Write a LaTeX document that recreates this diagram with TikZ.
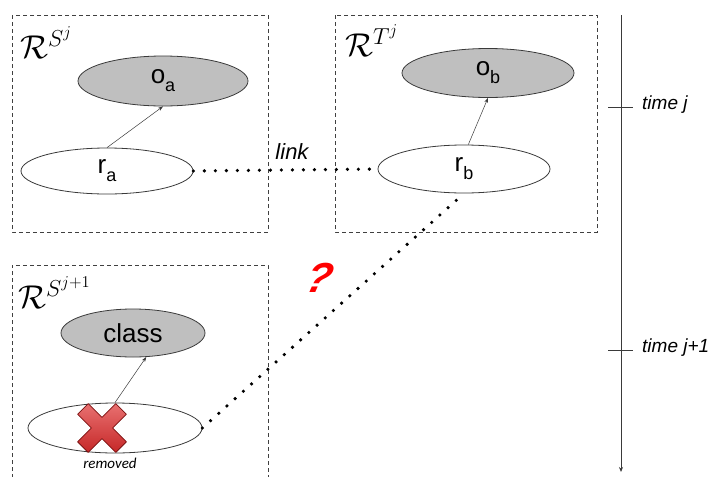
\documentclass[tikz,border=0pt]{standalone}
\usepackage{fix-cm}
\usepackage{fontspec}
\setmainfont{Liberation Sans}
\newfontfamily\carlito{Carlito}
\usetikzlibrary{shapes.geometric,arrows.meta}
\definecolor{objgray}{HTML}{BFBFBF}
\definecolor{edgegray}{HTML}{3A3A3A}
\definecolor{framegray}{HTML}{404040}
\definecolor{xred}{HTML}{C62828}
\definecolor{xredlight}{HTML}{E87070}
\definecolor{xreddark}{HTML}{7A1010}
\tikzset{
  frame/.style={draw=framegray, line width=0.9pt, dash pattern=on 4pt off 3pt},
  objnode/.style={ellipse, draw=edgegray, line width=0.8pt, fill=objgray, inner sep=0pt, font=\fontsize{26}{28}\selectfont},
  resnode/.style={ellipse, draw=edgegray, line width=0.8pt, fill=white, inner sep=0pt, font=\fontsize{26}{28}\selectfont},
  rel/.style={draw=edgegray, line width=0.5pt, -{Stealth[length=5pt,width=3.5pt]}},
  dotline/.style={draw=black, line width=3.6pt, line cap=round, dash pattern=on 0pt off 11pt},
  rlabel/.style={anchor=base west, inner sep=0pt, font=\fontsize{33}{36}\selectfont},
  timelbl/.style={anchor=west, inner sep=0pt, font=\fontsize{19}{21}\selectfont\itshape},
  timeline/.style={draw=edgegray, line width=0.8pt},
}
\newcommand{\subtxt}[2]{#1\raisebox{-8pt}{\fontsize{18}{18}\selectfont #2}}
\begin{document}
\begin{tikzpicture}[x=1pt,y=-1pt]
\useasboundingbox (0,0) rectangle (716,477);
% frames
\draw[frame] (12,15) rectangle (268,232);
\draw[frame] (335,15) rectangle (597,232);
\draw[frame] (12,478) -- (12,265) -- (268,265) -- (268,478);
% frame labels
\node[rlabel] (lsj) at (20,58) {$\mathcal{R}^{S^j}$};
\node[rlabel] (ltj) at (345,56) {$\mathcal{R}^{T^j}$};
\node[rlabel] (lsj1) at (18,308) {$\mathcal{R}^{S^{j+1}}$};
% ellipses
\node[objnode, minimum width=170pt, minimum height=50pt] (oa) at (163,81) {\subtxt{o}{a}};
\node[resnode, minimum width=172pt, minimum height=46pt] (ra) at (107,171) {\subtxt{r}{a}};
\node[objnode, minimum width=172pt, minimum height=49pt] (ob) at (488,73) {\subtxt{o}{b}};
\node[resnode, minimum width=172pt, minimum height=48pt] (rb) at (464,169) {\subtxt{r}{b}};
\node[objnode, minimum width=144pt, minimum height=48pt] (cls) at (133,333) {class};
\node[resnode, minimum width=174pt, minimum height=50pt] (rr) at (115,428) {};
% relations
\draw[rel] (ra.north) -- (oa.south);
\draw[rel] (rb.80) -- (ob.south);
\draw[rel] (rr.north) -- (cls.-61);
% dotted links
\draw[dotline] (ra.east) -- (rb.west);
\draw[dotline] (rr.east) -- (rb.south);
\node[inner sep=0pt, font=\fontsize{22}{24}\selectfont\itshape] (link) at (292,152) {link};
\node[inner sep=0pt, text=red, xslant=0.25, font=\fontsize{42}{44}\selectfont\bfseries\itshape] (qm) at (320,278) {?};
% red cross
\begin{scope}[shift={(102,428)}, rotate=45]
\path[top color=xredlight, bottom color=xred, draw=xreddark, line width=0.8pt, line join=round]
  (7.5,7.5) -- (7.5,27) -- (-7.5,27) -- (-7.5,7.5) -- (-27,7.5) -- (-27,-7.5) -- (-7.5,-7.5) -- (-7.5,-27) -- (7.5,-27) -- (7.5,-7.5) -- (27,-7.5) -- (27,7.5) -- cycle;
\end{scope}
\node[inner sep=0pt, font=\carlito\fontsize{15}{17}\selectfont\itshape] (rem) at (110,463) {removed};
% timeline
\coordinate (t0) at (621,15);
\coordinate (t1) at (621,472);
\draw[timeline, -{Stealth[length=5pt,width=4pt]}] (t0) -- (t1);
\coordinate (tja) at (608,107);
\coordinate (tjb) at (633,107);
\coordinate (tka) at (608,350);
\coordinate (tkb) at (633,350);
\draw[timeline] (tja) -- (tjb);
\draw[timeline] (tka) -- (tkb);
\node[timelbl] (tj) at (642,105) {time j};
\node[timelbl] (tk) at (642,348) {time j+1};
\end{tikzpicture}
\end{document}
